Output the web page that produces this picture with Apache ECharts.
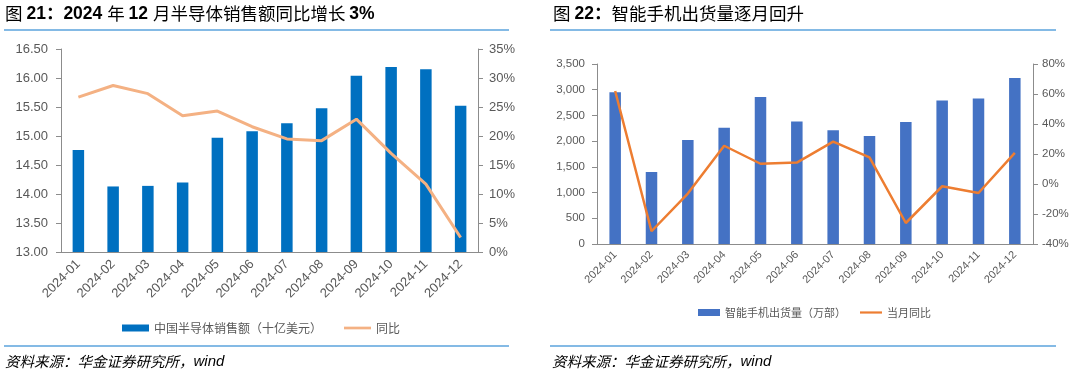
<!DOCTYPE html>
<html><head><meta charset="utf-8">
<script src="https://cdn.jsdelivr.net/npm/echarts@6/dist/echarts.min.js"></script>
<style>html,body{margin:0;padding:0;background:#fff}#c{width:1080px;height:374px}</style>
</head><body><div id="c"></div>
<script>
var months = ['2024-01','2024-02','2024-03','2024-04','2024-05','2024-06','2024-07','2024-08','2024-09','2024-10','2024-11','2024-12'];
var semiSales = [14.76,14.13,14.14,14.20,14.97,15.08,15.22,15.48,16.04,16.19,16.15,15.52];
var semiYoY = [26.7,28.7,27.3,23.5,24.3,21.6,19.5,19.2,22.9,17.0,11.7,2.5];
var phoneShip = [2950,1400,2020,2260,2860,2380,2210,2100,2370,2790,2830,3230];
var phoneYoY = [62,-31.5,-6.4,25.5,13.5,14.3,28.2,17.7,-26,-1.5,-6,20.8];

var FONT = 'Liberation Sans, Arial, Noto Sans CJK SC, sans-serif';
var CJK = 'Noto Sans CJK SC, sans-serif';
var axisGrey = '#8C8C8C';
var labelGrey = '#595959';
var lineIcon = 'path://M0,0H30V3H0Z';

var chart = echarts.init(document.getElementById('c'));

var option = {
  animation:false,
  textStyle:{fontFamily:FONT},
  grid:[
    {left:61,right:602,top:49,bottom:122},
    {left:597,right:47,top:64,bottom:130}
  ],
  xAxis:[
    {type:'category',gridIndex:0,data:months,boundaryGap:true,
     axisLine:{lineStyle:{color:axisGrey}},axisTick:{length:5,lineStyle:{color:axisGrey}},
     axisLabel:{rotate:45,fontSize:13,color:labelGrey,margin:10,interval:0}},
    {type:'category',gridIndex:1,data:months,boundaryGap:true,
     axisLine:{lineStyle:{color:axisGrey}},axisTick:{length:5,lineStyle:{color:axisGrey}},
     axisLabel:{rotate:45,fontSize:11,color:labelGrey,margin:9,interval:0}}
  ],
  yAxis:[
    {type:'value',gridIndex:0,min:13,max:16.5,interval:0.5,
     axisLine:{show:true,lineStyle:{color:axisGrey}},axisTick:{show:true,length:5,lineStyle:{color:axisGrey}},
     splitLine:{show:false},
     axisLabel:{fontSize:13,color:labelGrey,margin:13,formatter:function(v){return v.toFixed(2);}}},
    {type:'value',gridIndex:0,position:'right',min:0,max:35,interval:5,
     axisLine:{show:true,lineStyle:{color:axisGrey}},axisTick:{show:true,length:5,lineStyle:{color:axisGrey}},
     splitLine:{show:false},
     axisLabel:{fontSize:13,color:labelGrey,margin:11,formatter:'{value}%'}},
    {type:'value',gridIndex:1,min:0,max:3500,interval:500,
     axisLine:{show:true,lineStyle:{color:axisGrey}},axisTick:{show:true,length:5,lineStyle:{color:axisGrey}},
     splitLine:{show:false},
     axisLabel:{fontSize:11.5,color:labelGrey,margin:12,formatter:function(v){return v.toLocaleString('en-US');}}},
    {type:'value',gridIndex:1,position:'right',min:-40,max:80,interval:20,
     axisLine:{show:true,lineStyle:{color:axisGrey}},axisTick:{show:true,length:5,lineStyle:{color:axisGrey}},
     splitLine:{show:false},
     axisLabel:{fontSize:11.5,color:labelGrey,margin:9,formatter:'{value}%'}}
  ],
  legend:[
    {left:117,top:317,itemWidth:27,itemHeight:7,itemGap:22,
     textStyle:{fontFamily:CJK,fontSize:12,color:labelGrey},
     data:[{name:'中国半导体销售额（十亿美元）',icon:'rect'},{name:'同比',icon:lineIcon}]},
    {left:693,top:302,itemWidth:22,itemHeight:7,itemGap:14,
     textStyle:{fontFamily:CJK,fontSize:11,color:labelGrey},
     data:[{name:'智能手机出货量（万部）',icon:'rect'},{name:'当月同比',icon:lineIcon}]}
  ],
  series:[
    {name:'中国半导体销售额（十亿美元）',type:'bar',xAxisIndex:0,yAxisIndex:0,data:semiSales,
     barWidth:11.5,itemStyle:{color:'#0070C0'}},
    {name:'同比',type:'line',xAxisIndex:0,yAxisIndex:1,data:semiYoY,symbol:'none',
     lineStyle:{color:'#F4B183',width:3},itemStyle:{color:'#F4B183'}},
    {name:'智能手机出货量（万部）',type:'bar',xAxisIndex:1,yAxisIndex:2,data:phoneShip,
     barWidth:11.5,itemStyle:{color:'#4472C4'}},
    {name:'当月同比',type:'line',xAxisIndex:1,yAxisIndex:3,data:phoneYoY,symbol:'none',
     lineStyle:{color:'#ED7D31',width:2.5},itemStyle:{color:'#ED7D31'}}
  ],
  graphic:[
    {type:'text',left:5,top:5,style:{
      text:'{n|图 }{b|21：2024 }{n|年 }{b|12 }{n|月半导体销售额同比增长 }{b|3%}',
      rich:{
        n:{fontFamily:CJK,fontSize:17.5,color:'#3A5FA8',fontWeight:'normal'},
        b:{fontFamily:FONT,fontSize:17.5,color:'#1F3F8A',fontWeight:'bold'}
      }}},
    {type:'text',left:553,top:5,style:{
      text:'{n|图 }{b|22：}{n|智能手机出货量逐月回升}',
      rich:{
        n:{fontFamily:CJK,fontSize:17.5,color:'#3A5FA8',fontWeight:'normal'},
        b:{fontFamily:FONT,fontSize:17.5,color:'#1F3F8A',fontWeight:'bold'}
      }}},
    {type:'line',shape:{x1:4,y1:30,x2:509,y2:30},style:{stroke:'#5BA3DC',lineWidth:1.5}},
    {type:'line',shape:{x1:550,y1:30,x2:1056,y2:30},style:{stroke:'#5BA3DC',lineWidth:1.5}},
    {type:'line',shape:{x1:4,y1:346,x2:509,y2:346},style:{stroke:'#5BA3DC',lineWidth:1.5}},
    {type:'line',shape:{x1:550,y1:346,x2:1056,y2:346},style:{stroke:'#5BA3DC',lineWidth:1.5}},
    {type:'text',left:5,top:354,style:{
      text:'{a|资料来源：华金证券研究所，}{w|wind}',
      rich:{
        a:{fontFamily:CJK,fontSize:14.5,fontStyle:'italic',color:'#6A86BE'},
        w:{fontFamily:FONT,fontSize:15,fontStyle:'italic',color:'#1F3F8A'}
      }}},
    {type:'text',left:552,top:354,style:{
      text:'{a|资料来源：华金证券研究所，}{w|wind}',
      rich:{
        a:{fontFamily:CJK,fontSize:14.5,fontStyle:'italic',color:'#6A86BE'},
        w:{fontFamily:FONT,fontSize:15,fontStyle:'italic',color:'#1F3F8A'}
      }}}
  ]
};
chart.setOption(option);
</script>
</body></html>
